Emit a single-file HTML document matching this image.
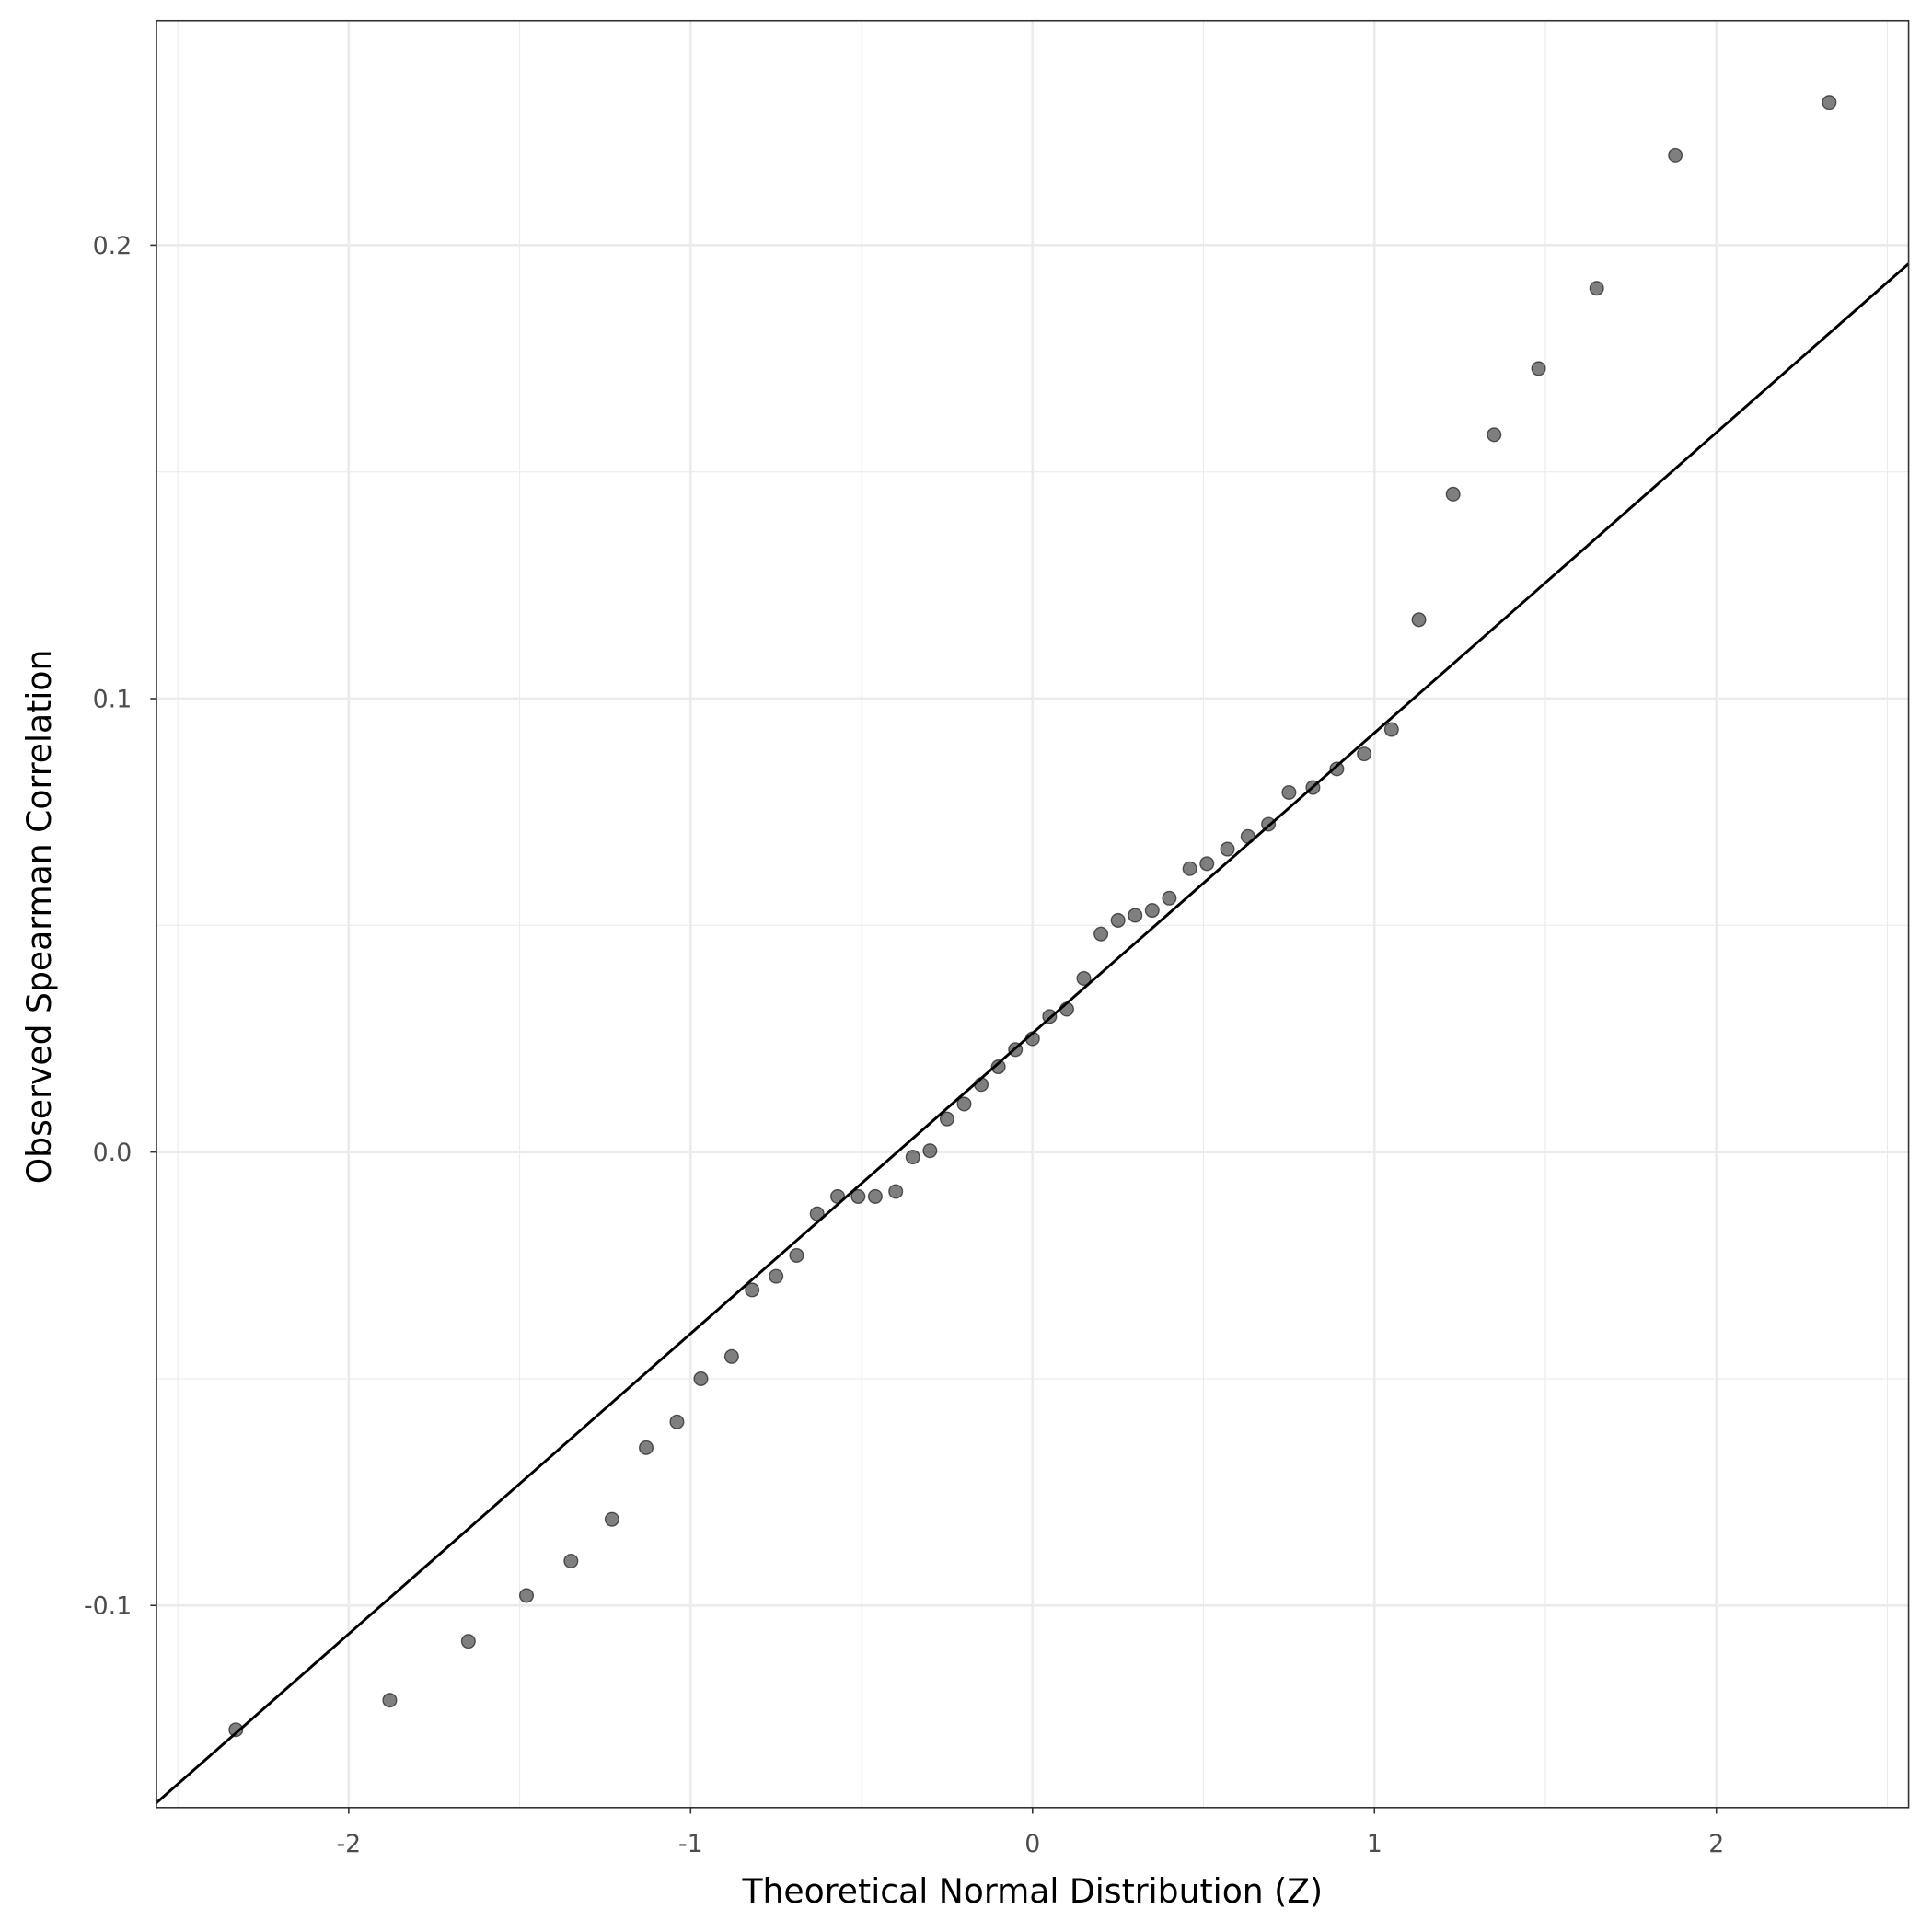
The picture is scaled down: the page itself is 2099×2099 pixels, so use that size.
<!DOCTYPE html>
<html><head><meta charset="utf-8"><style>
html,body{margin:0;padding:0;background:#fff;}
svg{display:block;}
text{font-family:"DejaVu Sans","Liberation Sans",sans-serif;}
</style></head><body>
<svg id="chart" width="2099" height="2099" viewBox="0 0 1568 1568" xmlns="http://www.w3.org/2000/svg">
<rect x="0" y="0" width="1568" height="1568" fill="#fff"/>
<g id="grid"></g>
<g id="refline"></g>
<g id="points"></g>
<rect x="127" y="17" width="1422" height="1450" fill="none" stroke="#333" stroke-width="1.2"/>
<g id="axes"></g>
<text x="838" y="1544" font-size="27" text-anchor="middle" fill="#000">Theoretical Normal Distribution (Z)</text>
<text transform="translate(41,744) rotate(-90)" font-size="27" text-anchor="middle" fill="#000">Observed Spearman Correlation</text>
</svg>
<script>
const xTicks = [-2, -1, 0, 1, 2];
const xTickLabels = ["-2", "-1", "0", "1", "2"];
const yTicks = [-0.1, 0.0, 0.1, 0.2];
const yTickLabels = ["-0.1", "0.0", "0.1", "0.2"];
const xMinor = [-2.5, -1.5, -0.5, 0.5, 1.5, 2.5];
const yMinor = [-0.05, 0.05, 0.15];
const theoretical = [-2.33,-1.88,-1.65,-1.48,-1.35,-1.23,-1.13,-1.04,-0.97,-0.88,-0.82,-0.75,-0.69,-0.63,-0.57,-0.51,-0.46,-0.40,-0.35,-0.30,-0.25,-0.20,-0.15,-0.10,-0.05,0,0.05,0.10,0.15,0.20,0.25,0.30,0.35,0.40,0.46,0.51,0.57,0.63,0.69,0.75,0.82,0.89,0.97,1.05,1.13,1.23,1.35,1.48,1.65,1.88,2.33];
const observed = [-0.1274,-0.1209,-0.1079,-0.0978,-0.0902,-0.0810,-0.0652,-0.0595,-0.0500,-0.0451,-0.0304,-0.0274,-0.0228,-0.0136,-0.0098,-0.0098,-0.0098,-0.0087,-0.0011,0.0003,0.0073,0.0106,0.0149,0.0188,0.0226,0.0250,0.0299,0.0315,0.0383,0.0481,0.0511,0.0522,0.0533,0.0560,0.0625,0.0636,0.0668,0.0696,0.0723,0.0793,0.0804,0.0845,0.0878,0.0932,0.1174,0.1451,0.1582,0.1728,0.1905,0.2198,0.2315];
const lineIntercept = 0.0262;
const lineSlope = 0.06624;

const NS = "http://www.w3.org/2000/svg";
const PL = 127, PR = 1549, PT = 17, PB = 1467;
const xScale = v => 838 + v * 277.5;
const yScale = v => 935 - v * 3680;
const xInv = p => (p - 838) / 277.5;
function mk(tag, attrs, parent) {
  const e = document.createElementNS(NS, tag);
  for (const k in attrs) e.setAttribute(k, attrs[k]);
  parent.appendChild(e);
  return e;
}
const grid = document.getElementById('grid');
xMinor.forEach(v => {
  const l = mk('line', {x1: xScale(v), x2: xScale(v), y1: PT, y2: PB, stroke: '#ebebeb', 'stroke-width': 0.8}, grid);
  
  
});
yMinor.forEach(v => {
  const l = mk('line', {x1: PL, x2: PR, y1: yScale(v), y2: yScale(v), stroke: '#ebebeb', 'stroke-width': 0.8}, grid);
  
  
});
xTicks.forEach(v => {
  const l = mk('line', {x1: xScale(v), x2: xScale(v), y1: PT, y2: PB, stroke: '#ebebeb', 'stroke-width': 2}, grid);
  
  
});
yTicks.forEach(v => {
  const l = mk('line', {x1: PL, x2: PR, y1: yScale(v), y2: yScale(v), stroke: '#ebebeb', 'stroke-width': 2}, grid);
  
  
});
const rl = document.getElementById('refline');
const x0 = xInv(PL), x1 = xInv(PR);
const ln = mk('line', {x1: PL, y1: yScale(lineIntercept + lineSlope * x0), x2: PR, y2: yScale(lineIntercept + lineSlope * x1), stroke: '#000', 'stroke-width': 2.2}, rl);


const pts = document.getElementById('points');
theoretical.forEach((t, i) => {
  const c = mk('circle', {cx: xScale(t), cy: yScale(observed[i]), r: 5.5, fill: 'rgba(0,0,0,0.5)', stroke: 'rgba(0,0,0,0.6)', 'stroke-width': 1}, pts);
  
  
});
const ax = document.getElementById('axes');
xTicks.forEach((v, i) => {
  const t = mk('line', {x1: xScale(v), x2: xScale(v), y1: PB, y2: PB + 5, stroke: '#333', 'stroke-width': 1.2}, ax);
  
  
  const tx = mk('text', {x: xScale(v), y: 1503, 'font-size': 20, 'text-anchor': 'middle', fill: '#4d4d4d'}, ax);
  tx.textContent = xTickLabels[i];
  
  
});
yTicks.forEach((v, i) => {
  const t = mk('line', {x1: PL - 5, x2: PL, y1: yScale(v), y2: yScale(v), stroke: '#333', 'stroke-width': 1.2}, ax);
  
  
  const tx = mk('text', {x: 107, y: yScale(v) + 7, 'font-size': 20, 'text-anchor': 'end', fill: '#4d4d4d'}, ax);
  tx.textContent = yTickLabels[i];
  
  
});
</script>
</body></html>
